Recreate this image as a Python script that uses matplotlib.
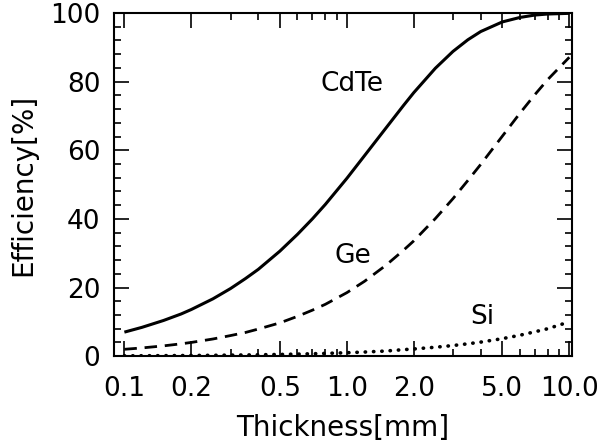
import matplotlib as mpl
mpl.use("Agg")
import matplotlib.pyplot as plt
from matplotlib.ticker import FixedLocator, NullFormatter

# thickness in mm, efficiency in %
thick = [0.1, 0.12, 0.15, 0.18, 0.2, 0.25, 0.3, 0.35, 0.4, 0.5, 0.6, 0.7, 0.8,
         1.0, 1.2, 1.5, 1.8, 2.0, 2.5, 3.0, 3.5, 4.0, 5.0, 6.0, 7.0, 8.0, 10.0]
cdte = [7.0, 8.4, 10.4, 12.3, 13.6, 16.7, 19.7, 22.6, 25.3, 30.6, 35.5, 40.0, 44.2,
        51.8, 58.4, 66.5, 73.1, 76.8, 83.9, 88.8, 92.2, 94.6, 97.4, 98.7, 99.4, 99.7, 99.9]
ge = [2.0, 2.4, 3.0, 3.6, 4.0, 5.0, 6.0, 6.9, 7.9, 9.7, 11.6, 13.4, 15.1,
      18.5, 21.8, 26.5, 30.9, 33.6, 40.1, 45.9, 51.2, 55.9, 64.1, 70.8, 76.2, 80.6, 87.1]
si = [0.1, 0.12, 0.15, 0.18, 0.2, 0.25, 0.3, 0.35, 0.4, 0.5, 0.6, 0.7, 0.8,
      1.0, 1.2, 1.5, 1.9, 2.1, 2.6, 3.1, 3.6, 4.1, 5.1, 6.1, 7.1, 8.0, 10.0]

major_x = [0.1, 0.2, 0.5, 1.0, 2.0, 5.0, 10.0]
major_x_labels = ["0.1", "0.2", "0.5", "1.0", "2.0", "5.0", "10.0"]
minor_x = [0.3, 0.4, 0.6, 0.7, 0.8, 0.9, 3, 4, 6, 7, 8, 9]

fig = plt.figure(figsize=(6.01, 4.48), dpi=100)
ax = fig.add_axes([0.19, 0.205, 0.762, 0.766])

ax.plot(thick, cdte, color="black", lw=2.2, solid_capstyle="butt")
ax.plot(thick, ge, color="black", lw=2.0, dashes=(4.5, 2.8))
ax.plot(thick, si, color="black", lw=2.6, dashes=(0.1, 2.2), dash_capstyle="round")

ax.set_xscale("log")
ax.set_xlim(0.090, 10.3)
ax.set_ylim(0, 100)

ax.xaxis.set_major_locator(FixedLocator(major_x))
ax.set_xticklabels(major_x_labels)
ax.xaxis.set_minor_locator(FixedLocator(minor_x))
ax.xaxis.set_minor_formatter(NullFormatter())
ax.set_yticks([0, 20, 40, 60, 80, 100])
ax.yaxis.set_minor_locator(FixedLocator(range(0, 101, 4)))

ax.tick_params(which="both", direction="in", top=True, right=True, width=1.2)
ax.tick_params(which="major", length=11, labelsize=19)
ax.tick_params(axis="x", which="major", pad=14)
ax.tick_params(axis="y", which="major", pad=10)
ax.tick_params(which="minor", length=5)
for s in ax.spines.values():
    s.set_linewidth(1.5)

ax.text(1.05, 79.3, "CdTe", fontsize=19, ha="center", va="center")
ax.text(1.07, 29.2, "Ge", fontsize=19, ha="center", va="center")
ax.text(4.06, 11.4, "Si", fontsize=19, ha="center", va="center")

ax.set_xlabel("Thickness[mm]", fontsize=20, labelpad=9)
ax.set_ylabel("Efficiency[%]", fontsize=20, labelpad=9)

fig.savefig("out.png", dpi=100)
